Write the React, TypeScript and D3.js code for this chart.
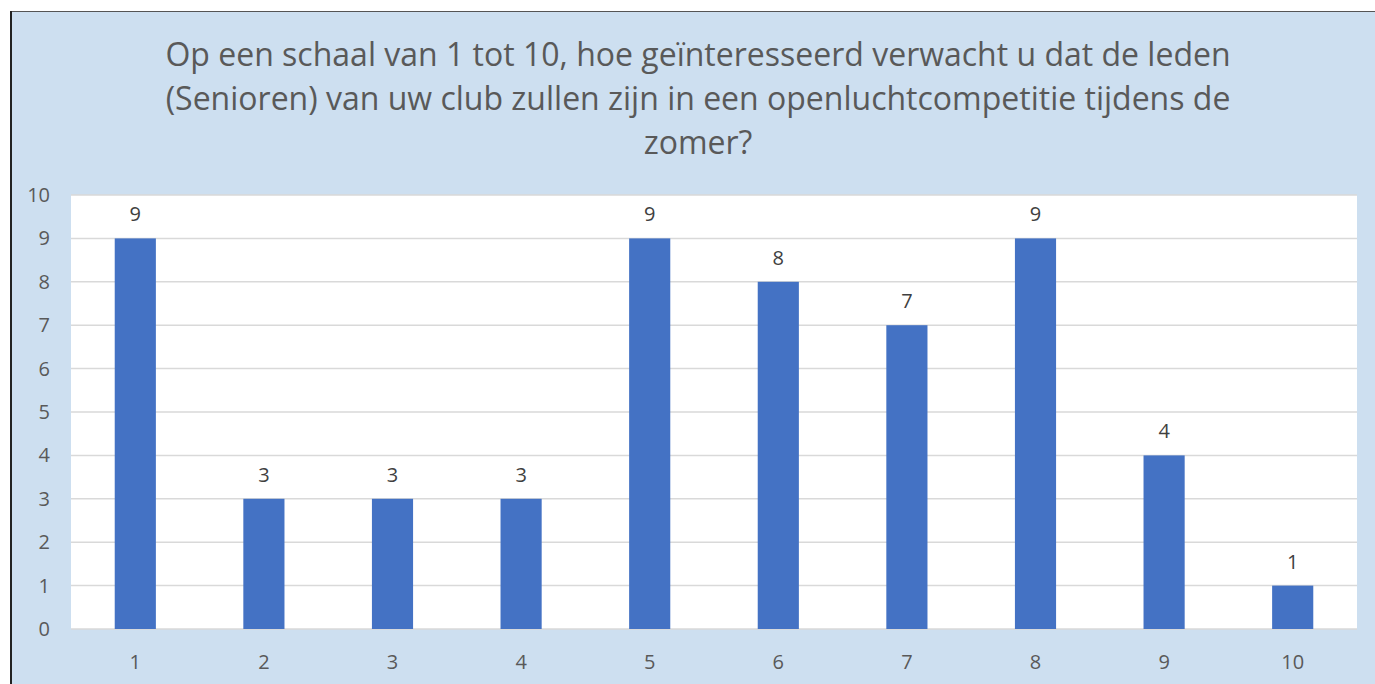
import { useEffect, useRef } from 'react';
import * as d3 from 'd3';

const categories = ['1', '2', '3', '4', '5', '6', '7', '8', '9', '10'];
const counts = [9, 3, 3, 3, 9, 8, 7, 9, 4, 1];
const yTicks = [0, 1, 2, 3, 4, 5, 6, 7, 8, 9, 10];
const titleLines = [
  'Op een schaal van 1 tot 10, hoe geïnteresseerd verwacht u dat de leden',
  '(Senioren) van uw club zullen zijn in een openluchtcompetitie tijdens de',
  'zomer?',
];

const App = () => {
  const ref = useRef<SVGSVGElement>(null);

  useEffect(() => {
    const width = 1375;
    const height = 684;
    const margin = { top: 195, right: 18, bottom: 55, left: 71 };
    const innerWidth = width - margin.left - margin.right;
    const innerHeight = height - margin.top - margin.bottom;
    const font = '"Open Sans", sans-serif';
    const textColor = '#595959';

    const svg = d3.select(ref.current);
    svg.selectAll('*').remove();

    svg.append('rect').attr('width', width).attr('height', height).attr('fill', '#ffffff');
    svg.append('rect').attr('x', 10).attr('y', 11).attr('width', width - 10).attr('height', height - 11).attr('fill', '#cddff0');
    svg.append('line').attr('x1', 10).attr('x2', width).attr('y1', 11.5).attr('y2', 11.5).attr('stroke', '#555').attr('stroke-width', 1);
    svg.append('line').attr('x1', 11).attr('x2', 11).attr('y1', 11).attr('y2', height).attr('stroke', '#222').attr('stroke-width', 2);

    svg.append('g')
      .selectAll('text')
      .data(titleLines)
      .join('text')
      .attr('x', 698)
      .attr('y', (d, i) => 66 + i * 44)
      .attr('text-anchor', 'middle')
      .attr('fill', textColor)
      .style('font-family', font)
      .style('font-size', '32px')
      .text(d => d);

    const chart = svg.append('g').attr('transform', `translate(${margin.left}, ${margin.top})`);

    const xScale = d3.scaleBand().domain(categories).range([0, innerWidth]).paddingInner(0.68).paddingOuter(0.34);
    const yScale = d3.scaleLinear().domain([0, 10]).range([innerHeight, 0]);

    chart.append('rect').attr('width', innerWidth).attr('height', innerHeight).attr('fill', '#ffffff');

    chart.selectAll('.grid')
      .data(yTicks)
      .join('line')
      .attr('class', 'grid')
      .attr('x1', 0)
      .attr('x2', innerWidth)
      .attr('y1', d => yScale(d))
      .attr('y2', d => yScale(d))
      .attr('stroke', '#d9d9d9')
      .attr('stroke-width', 1.5);

    chart.selectAll('.ylab')
      .data(yTicks)
      .join('text')
      .attr('class', 'ylab')
      .attr('x', -21)
      .attr('y', d => yScale(d))
      .attr('dy', '0.35em')
      .attr('text-anchor', 'end')
      .attr('fill', textColor)
      .style('font-family', font)
      .style('font-size', '20px')
      .text(d => d);

    const data = categories.map((c, i) => ({ c, v: counts[i] }));

    chart.selectAll('.bar')
      .data(data)
      .join('rect')
      .attr('class', 'bar')
      .attr('x', d => xScale(d.c)!)
      .attr('y', d => yScale(d.v))
      .attr('width', xScale.bandwidth())
      .attr('height', d => innerHeight - yScale(d.v))
      .attr('fill', '#4472c4');

    chart.selectAll('.vlab')
      .data(data)
      .join('text')
      .attr('class', 'vlab')
      .attr('x', d => xScale(d.c)! + xScale.bandwidth() / 2)
      .attr('y', d => yScale(d.v) - 17)
      .attr('text-anchor', 'middle')
      .attr('fill', '#404040')
      .style('font-family', font)
      .style('font-size', '20px')
      .text(d => d.v);

    chart.selectAll('.xlab')
      .data(categories)
      .join('text')
      .attr('class', 'xlab')
      .attr('x', d => xScale(d)! + xScale.bandwidth() / 2)
      .attr('y', innerHeight + 40)
      .attr('text-anchor', 'middle')
      .attr('fill', textColor)
      .style('font-family', font)
      .style('font-size', '20px')
      .text(d => d);
  }, []);

  return (
    <svg ref={ref} width={1375} height={684} style={{ position: 'absolute', left: 0, top: 0 }}></svg>
  );
};

export default App;
